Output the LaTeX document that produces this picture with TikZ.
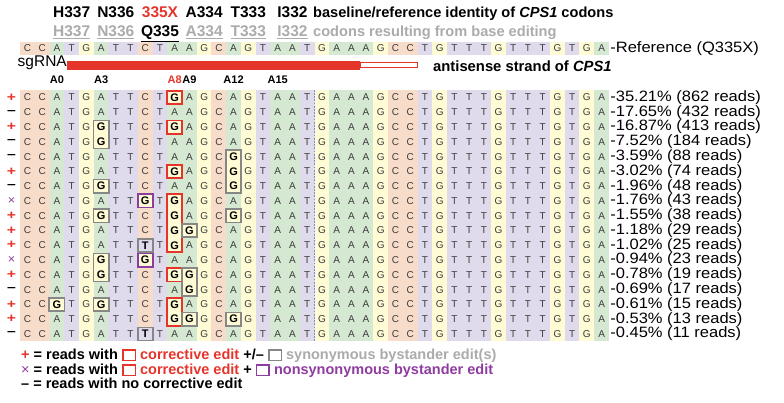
\documentclass[tikz,border=0pt]{standalone}
\usepackage{fontspec}
\setmainfont{Liberation Sans}
\newfontfamily\readfont[FakeStretch=1.1]{Liberation Sans}
\newfontfamily\markfont[FakeStretch=1.25]{Liberation Sans}
\usetikzlibrary{positioning, fit}

\definecolor{baseA}{HTML}{D5E8D1}
\definecolor{baseC}{HTML}{F8DCCA}
\definecolor{baseG}{HTML}{FFFBD4}
\definecolor{baseT}{HTML}{E0DBEC}
\definecolor{seqgray}{HTML}{3C3C3C}
\definecolor{corrred}{HTML}{E5352B}
\definecolor{bystgray}{HTML}{878787}
\definecolor{codongray}{HTML}{ABABAB}
\definecolor{nonsynpurple}{HTML}{8E3C9F}
\definecolor{cutblue}{HTML}{6F93D2}

\newcommand{\refseq}{C,C,A,T,G,A,T,T,C,T,A,A,G,C,A,G,T,A,A,T,G,A,A,A,G,C,C,T,G,T,T,T,G,T,T,T,G,T,G,A}
\newcommand{\legbox}[1]{{\setlength{\fboxrule}{1.6pt}\setlength{\fboxsep}{0pt}\fcolorbox{#1}{white}{\rule{0pt}{8.5pt}\rule{11pt}{0pt}}}}

\begin{document}
\begin{tikzpicture}[
    x=1pt, y=-1pt,
    cell/.style={
        rectangle,
        inner sep=0pt,
        minimum width=14.8pt,
        minimum height=14.85pt,
        fill=base#1,
        text=seqgray,
        font=\fontsize{10}{10}\selectfont
    },
    edit/.style={
        text=black,
        font=\fontsize{11}{11}\selectfont\bfseries
    },
    corr/.style={
        rectangle,
        draw=corrred,
        line width=1.7pt,
        inner xsep=0pt,
        inner ysep=-1pt
    },
    syn/.style={
        corr,
        draw=bystgray
    },
    nonsyn/.style={
        corr,
        draw=nonsynpurple
    },
    codon/.style={
        anchor=base,
        inner sep=0pt,
        font=\fontsize{15.5}{16}\selectfont\bfseries
    },
    note/.style={
        anchor=base west,
        inner sep=0pt,
        font=\fontsize{14.6}{15}\selectfont\bfseries
    },
    poslab/.style={
        anchor=base,
        inner sep=0pt,
        font=\fontsize{11}{11}\selectfont\bfseries
    },
    readlab/.style={
        anchor=west,
        inner sep=1pt,
        font=\readfont\fontsize{15}{15}\selectfont
    },
    mark plus/.style={
        inner sep=0pt,
        text=corrred,
        font=\markfont\fontsize{12.6}{12}\selectfont\bfseries,
        node contents={+}
    },
    mark minus/.style={
        inner sep=0pt,
        text=black,
        font=\markfont\fontsize{12.6}{12}\selectfont\bfseries,
        node contents={–}
    },
    mark cross/.style={
        inner sep=0pt,
        text=nonsynpurple,
        font=\fontsize{12.6}{12}\selectfont,
        node contents={×}
    },
    cutsite/.style={
        draw=cutblue,
        line width=0.6pt,
        dash pattern=on 1.8pt off 1.4pt
    },
    legend/.style={
        anchor=base west,
        inner sep=0pt,
        font=\fontsize{14.5}{15}\selectfont\bfseries
    }
]

\useasboundingbox (0,0) rectangle (784,402);

% Reference sequence
\foreach \b [count=\i from 0] in \refseq {
    \node[cell=\b, minimum height=13.4pt] (ref-\i) at ({27.5+14.72*\i},48.3) {\b};
}
\node[readlab] (reflab) at (ref-39.east) {-Reference (Q335X)};

% Codon rows
\coordinate (baserow) at (0,17.3);
\coordinate (editrow) at (0,36.7);
\node[codon] (b337) at (ref-3 |- baserow) {H337};
\node[codon] (b336) at (ref-6 |- baserow) {N336};
\node[codon, text=corrred] (b335) at (ref-9 |- baserow) {335X};
\node[codon] (b334) at (ref-12 |- baserow) {A334};
\node[codon] (b333) at (ref-15 |- baserow) {T333};
\node[codon] (b332) at (ref-18 |- baserow) {I332};
\node[note] (btext) at (313,17.3) {baseline/reference identity of \textit{CPS1} codons};

\node[codon, text=codongray] (e337) at (ref-3 |- editrow) {\underline{H337}};
\node[codon, text=codongray] (e336) at (ref-6 |- editrow) {\underline{N336}};
\node[codon] (e335) at (ref-9 |- editrow) {\underline{Q335}};
\node[codon, text=codongray] (e334) at (ref-12 |- editrow) {\underline{A334}};
\node[codon, text=codongray] (e333) at (ref-15 |- editrow) {\underline{T333}};
\node[codon, text=codongray] (e332) at (ref-18 |- editrow) {\underline{I332}};
\node[note, text=codongray] (etext) at (313,36.7) {codons resulting from base editing};

% sgRNA
\node[anchor=base east, inner sep=0pt, font=\fontsize{15.5}{15}\selectfont] (sg) at (67,66.5) {sgRNA};
\fill[corrred] (67,61) rectangle (360,69.5);
\draw[corrred, line width=1.2pt, fill=white] (360.6,62.6) rectangle (417.4,67.6);
\node[note, font=\fontsize{14.8}{15}\selectfont\bfseries] (anti) at (433,71.7) {antisense strand of \textit{CPS1}};

% Adenine positions
\coordinate (posrow) at (0,83.3);
\node[poslab] (a0) at (ref-2 |- posrow) {A0};
\node[poslab] (a3) at (ref-5 |- posrow) {A3};
\node[poslab, text=corrred] (a8) at (ref-10 |- posrow) {A8};
\node[poslab] (a9) at (ref-11 |- posrow) {A9};
\node[poslab] (a12) at (ref-14 |- posrow) {A12};
\node[poslab] (a15) at (ref-17 |- posrow) {A15};

% Reads
\foreach \sgn/\lab [count=\r from 0] in {
    plus/35.21\% (862 reads), minus/17.65\% (432 reads), plus/16.87\% (413 reads),
    minus/7.52\% (184 reads), minus/3.59\% (88 reads), plus/3.02\% (74 reads),
    minus/1.96\% (48 reads), cross/1.76\% (43 reads), plus/1.55\% (38 reads),
    plus/1.18\% (29 reads), plus/1.02\% (25 reads), cross/0.94\% (23 reads),
    plus/0.78\% (19 reads), minus/0.69\% (17 reads), plus/0.61\% (15 reads),
    plus/0.53\% (13 reads), minus/0.45\% (11 reads)} {
    \foreach \b [count=\i from 0] in \refseq {
        \node[cell=\b] (s\r-\i) at ({27.5+14.72*\i},{97.5+14.78*\r}) {\b};
    }
    \node (m\r) at (11.5,{97.5+14.78*\r}) [mark \sgn];
    \node[readlab] (p\r) at (s\r-39.east) {-\lab};
}

% Edited bases
\foreach \r/\i/\nb in {0/10/G, 2/10/G, 5/10/G, 7/10/G, 8/10/G, 9/10/G, 10/10/G, 12/10/G, 14/10/G, 15/10/G,
    2/5/G, 3/5/G, 6/5/G, 8/5/G, 11/5/G, 12/5/G, 14/5/G,
    4/14/G, 5/14/G, 6/14/G, 8/14/G, 15/14/G,
    9/11/G, 12/11/G, 13/11/G, 15/11/G,
    7/8/G, 11/8/G, 10/8/T, 16/8/T, 14/2/G} {
    \node[cell=\nb, edit] (e\r-\i) at (s\r-\i) {\nb};
}

% Cut site
\draw[cutsite] (s0-19.north east) -- (s16-19.south east);

% Corrective edits
\foreach \a/\b [count=\k] in {s0-10/s0-10, s2-10/s2-10, s5-10/s5-10, s7-10/s10-10, s12-10/s12-10, s14-10/s15-10} {
    \node[corr, fit=(\a)(\b)] (corr\k) {};
}

% Synonymous bystander edits
\foreach \a/\b [count=\k] in {s2-5/s3-5, s6-5/s6-5, s8-5/s8-5, s11-5/s12-5, s14-5/s14-5,
    s4-14/s6-14, s8-14/s8-14, s15-14/s15-14, s9-11/s9-11, s12-11/s13-11, s15-11/s15-11,
    s10-8/s10-8, s16-8/s16-8, s14-2/s14-2} {
    \node[syn, fit=(\a)(\b)] (syn\k) {};
}

% Nonsynonymous bystander edits
\node[nonsyn, fit=(s7-8)] (nonsyn1) {};
\node[nonsyn, fit=(s11-8)] (nonsyn2) {};

% Legend
\node[legend] (leg1) at (21,359.5) {\textcolor{corrred}{+} = reads with \legbox{corrred} \textcolor{corrred}{corrective edit} +/– \legbox{bystgray} \textcolor{codongray}{synonymous bystander edit(s)}};
\node[legend] (leg2) at (21,374.5) {{\mdseries\textcolor{nonsynpurple}{×}} = reads with \legbox{corrred} \textcolor{corrred}{corrective edit} + \legbox{nonsynpurple} \textcolor{nonsynpurple}{nonsynonymous bystander edit}};
\node[legend] (leg3) at (21,388.5) {– = reads with no corrective edit};

\end{tikzpicture}
\end{document}
